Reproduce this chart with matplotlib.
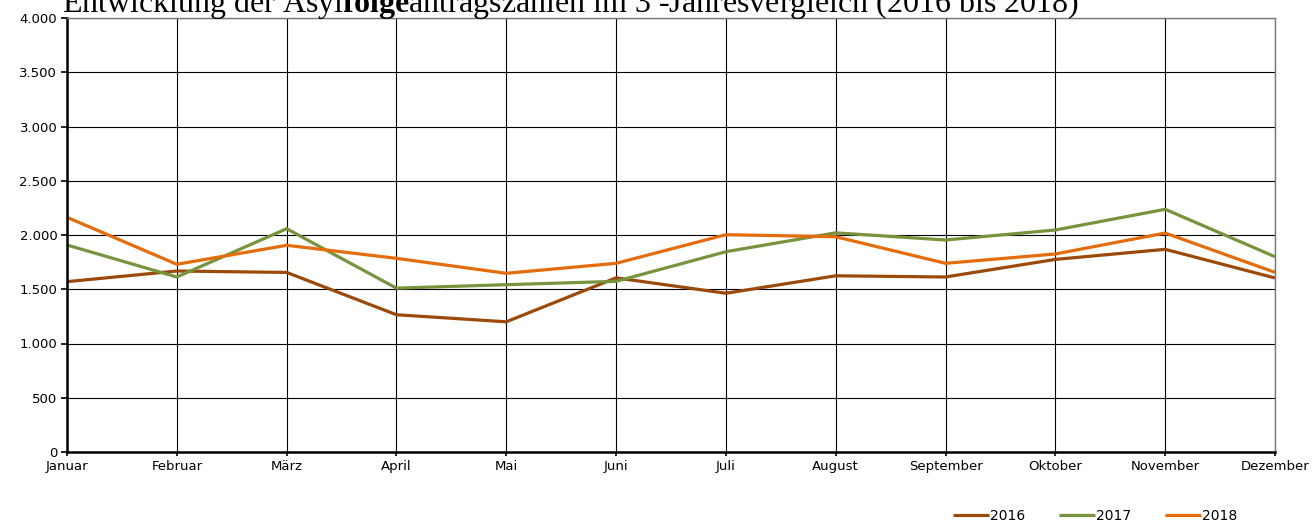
import matplotlib.pyplot as plt
from matplotlib.ticker import FuncFormatter

# Data
months = ['Januar', 'Februar', 'März', 'April', 'Mai', 'Juni', 'Juli',
          'August', 'September', 'Oktober', 'November', 'Dezember']
y2016 = [1570, 1668, 1655, 1265, 1200, 1605, 1463, 1624, 1613, 1775, 1868, 1604]
y2017 = [1908, 1613, 2058, 1510, 1542, 1573, 1846, 2020, 1954, 2046, 2237, 1800]
y2018 = [2163, 1730, 1905, 1785, 1647, 1739, 2003, 1984, 1739, 1825, 2018, 1656]

years = ['2016', '2017', '2018']
colors = ['#9C4A0A', '#77933C', '#E46C0A']

plt.rcParams['mathtext.fontset'] = 'custom'
plt.rcParams['mathtext.rm'] = 'Liberation Serif'
plt.rcParams['mathtext.bf'] = 'Liberation Serif:bold'

fig = plt.figure(figsize=(13.16, 5.22), dpi=100)
ax = fig.add_axes([67/1316, 1 - 452/522, (1275 - 67)/1316, (452 - 18)/522])

x = range(len(months))
for vals, year, c in zip([y2016, y2017, y2018], years, colors):
    ax.plot(x, vals, color=c, linewidth=2.3, label=year, solid_capstyle='butt')

ax.set_xlim(0, len(months) - 1)
ax.set_ylim(0, 4000)
ax.set_yticks(range(0, 4001, 500))
ax.yaxis.set_major_formatter(FuncFormatter(lambda v, p: f'{int(v):,}'.replace(',', '.')))
ax.set_xticks(list(x))
ax.set_xticklabels(months)

ax.grid(True, color='black', linewidth=0.8)
ax.set_axisbelow(True)
for side in ['top', 'right']:
    ax.spines[side].set_color('#777777')
    ax.spines[side].set_linewidth(1.0)
for side in ['left', 'bottom']:
    ax.spines[side].set_linewidth(1.8)
ax.tick_params(axis='y', labelsize=9.5, length=4, width=1.2, pad=3)
ax.tick_params(axis='x', labelsize=9.5, length=3, width=1.2, pad=3)

fig.text(62/1316, 1 - 12/522,
         r'Entwicklung der Asyl$\bf{folge}$antragszahlen im 3 -Jahresvergleich (2016 bis 2018)',
         family='Liberation Serif', fontsize=23, va='baseline', ha='left')

fig.legend(loc='lower right', bbox_to_anchor=(1250/1316, -0.025), ncol=3, frameon=False,
           fontsize=10, handlelength=2.6, handletextpad=0.1, columnspacing=2.4)

plt.savefig('out.png', dpi=100)
